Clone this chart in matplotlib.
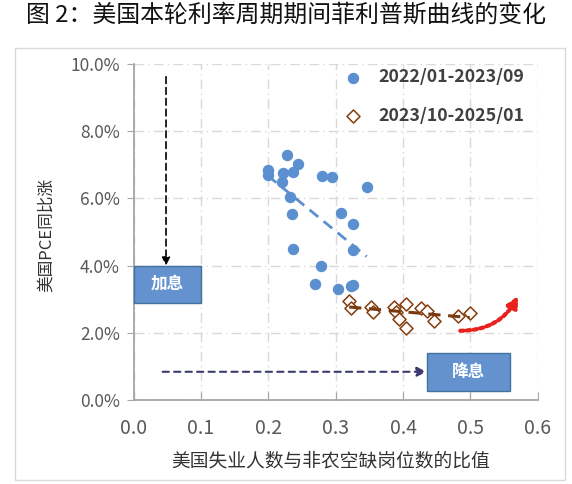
import numpy as np
import matplotlib
matplotlib.use('Agg')
import matplotlib.pyplot as plt
from matplotlib.patches import Rectangle
from matplotlib.ticker import PercentFormatter, FormatStrFormatter

plt.rcParams['font.family'] = ['Noto Sans CJK SC', 'DejaVu Sans']

# ── 数据 ────────────────────────────────────────────
label_a = "2022/01-2023/09"
ratio_a = [0.228, 0.244, 0.199, 0.199, 0.221, 0.237, 0.220, 0.280, 0.295, 0.346, 0.232,
           0.235, 0.308, 0.326, 0.237, 0.326, 0.278, 0.269, 0.304, 0.323, 0.326]
pce_a   = [7.29, 7.01, 6.85, 6.70, 6.75, 6.79, 6.48, 6.68, 6.63, 6.35, 6.05,
           5.54, 5.57, 5.24, 4.50, 4.46, 3.99, 3.45, 3.29, 3.40, 3.42]

label_b = "2023/10-2025/01"
ratio_b = [0.320, 0.323, 0.353, 0.356, 0.387, 0.405, 0.390, 0.394, 0.404,
           0.427, 0.435, 0.446, 0.482, 0.499]
pce_b   = [2.95, 2.75, 2.78, 2.62, 2.78, 2.86, 2.62, 2.40, 2.15,
           2.73, 2.65, 2.35, 2.50, 2.60]

xticks = [0.0, 0.1, 0.2, 0.3, 0.4, 0.5, 0.6]
yticks = [0, 2, 4, 6, 8, 10]

title  = "图 2：美国本轮利率周期期间菲利普斯曲线的变化"
xlabel = "美国失业人数与非农空缺岗位数的比值"
ylabel = "美国PCE同比涨"

c_blue  = "#5b8fcf"
c_brown = "#843c0c"
c_box   = "#6392cf"

# ── 画布 ────────────────────────────────────────────
fig = plt.figure(figsize=(5.72, 4.84), dpi=100)
fig.patches.append(Rectangle((15/572, 4/484), 550/572, 432/484, transform=fig.transFigure,
                             fill=False, edgecolor="#d9d9d9", lw=1.0))
fig.text(0.5, 0.969, title, ha="center", va="center", fontsize=17.2, color="#111111")

ax = fig.add_axes([133.7/572, 84/484, 404/572, 336/484])
ax.set_xlim(0, 0.6)
ax.set_ylim(0, 10)
ax.set_xticks(xticks)
ax.set_yticks(yticks)
ax.xaxis.set_major_formatter(FormatStrFormatter('%.1f'))
ax.yaxis.set_major_formatter(PercentFormatter(decimals=1))

grid_ls = (0, (7, 3, 1, 3))
ax.grid(True, color="#d9d9d9", lw=1.0, linestyle=grid_ls)
ax.set_axisbelow(True)
for s in ["top", "right"]:
    ax.spines[s].set_visible(False)
for s in ["left", "bottom"]:
    ax.spines[s].set_color("#a6a6a6")
    ax.spines[s].set_linewidth(1.3)

ax.tick_params(axis="x", direction="in", length=6, color="#a6a6a6", labelsize=14,
               labelcolor="#595959", pad=13)
ax.tick_params(axis="y", direction="out", length=5, color="#a6a6a6", labelsize=12.5,
               labelcolor="#595959", pad=5)

ax.set_xlabel(xlabel, fontsize=13.5, color="#333333")
ax.xaxis.set_label_coords(0.488, -0.15)
ax.set_ylabel(ylabel, fontsize=12, color="#333333")
ax.yaxis.set_label_coords(-0.195, 0.49)

# ── 散点 + 趋势线 ────────────────────────────────────
ax.scatter(ratio_a, pce_a, s=52, color=c_blue, zorder=4, label=label_a)
ax.scatter(ratio_b, pce_b, s=44, marker="D", facecolor="white", edgecolor=c_brown,
           linewidth=1.1, zorder=4, label=label_b)

k_a, b_a = np.polyfit(ratio_a, pce_a, 1)
xa = np.array([min(ratio_a), max(ratio_a)])
ax.plot(xa, k_a * xa + b_a, color=c_blue, lw=2.0, ls=(0, (4, 2.5)), zorder=3)

k_b, b_b = np.polyfit(ratio_b, pce_b, 1)
xb = np.array([min(ratio_b), max(ratio_b)])
ax.plot(xb, k_b * xb + b_b, color="#7a3a10", lw=2.2, ls=(0, (4, 2.5)), zorder=5)

# ── 加息 / 降息 标注 ─────────────────────────────────
ax.add_patch(Rectangle((0.0, 2.9), 0.1, 1.1, facecolor=c_box, edgecolor="#41719c",
                       lw=1.0, zorder=6, clip_on=False))
ax.text(0.05, 3.45, "加息", ha="center", va="center", color="white", fontsize=12,
        fontweight="bold", zorder=7)
ax.add_patch(Rectangle((0.435, 0.28), 0.124, 1.13, facecolor=c_box, edgecolor="#41719c",
                       lw=1.0, zorder=6))
ax.text(0.497, 0.845, "降息", ha="center", va="center", color="white", fontsize=12,
        fontweight="bold", zorder=7)

ax.annotate("", xy=(0.048, 4.0), xytext=(0.048, 9.62),
            arrowprops=dict(arrowstyle="-|>", color="black", lw=1.2, ls=(0, (4, 2.5)),
                            mutation_scale=12, shrinkA=0, shrinkB=0), zorder=5)
ax.annotate("", xy=(0.435, 0.84), xytext=(0.043, 0.84),
            arrowprops=dict(arrowstyle="-|>", color="#3b3b70", lw=1.5, ls=(0, (3, 2.5)),
                            mutation_scale=14, shrinkA=0, shrinkB=0), zorder=5)
ax.annotate("", xy=(0.571, 3.1), xytext=(0.485, 2.06),
            arrowprops=dict(arrowstyle="-|>", color="#e8211d", lw=3.0, ls=(0, (0.8, 0.8)),
                            mutation_scale=16, shrinkA=0, shrinkB=0,
                            connectionstyle="arc3,rad=0.3"), annotation_clip=False, zorder=5)

# ── 图例 ────────────────────────────────────────────
leg = ax.legend(loc="upper left", bbox_to_anchor=(0.51, 1.0), frameon=False,
                borderaxespad=0, borderpad=0.25, handlelength=1.0, handletextpad=0.9,
                labelspacing=1.15, prop={"size": 12.8, "weight": "bold"})
for t in leg.get_texts():
    t.set_color("#404040")

plt.savefig("out.png", dpi=100)
plt.close()
